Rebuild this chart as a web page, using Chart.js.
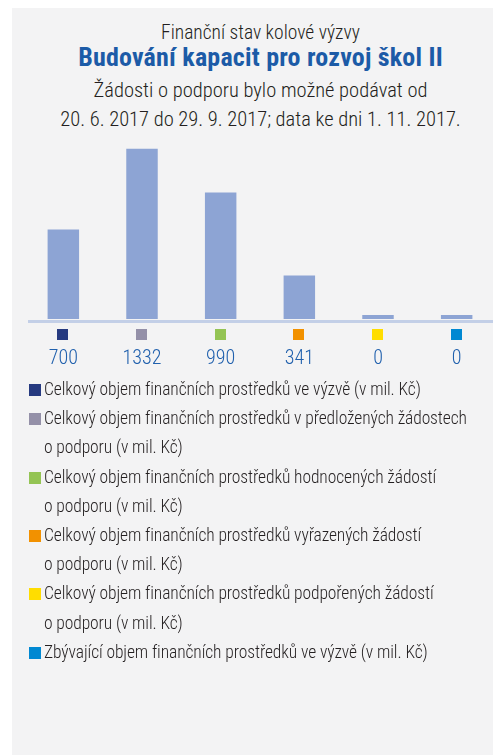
<!DOCTYPE html>
<html lang="cs">
<head>
<meta charset="utf-8">
<script src="https://cdn.jsdelivr.net/npm/chart.js@4.4.0/dist/chart.umd.min.js"></script>
<style>
    html, body { margin: 0; padding: 0; background: #ffffff; }
    body { width: 497px; height: 755px; position: relative; overflow: hidden;
           font-family: "Roboto Condensed", "Liberation Sans", sans-serif; font-weight: 300; color: #231f20; }
    #panel { position: absolute; left: 12px; top: 8px; width: 481px; height: 747px; background: #f3f3f4; }
    .line { position: absolute; left: 24px; width: 473px; text-align: center; white-space: nowrap; }
    #t1 { top: 21px; font-size: 19.5px; line-height: 23.4px; }
    #t2 { top: 42px; font-size: 26px; line-height: 31.2px; font-weight: 700; color: #1c5ba7; letter-spacing: 0.2px; }
    #t3 { top: 78px; font-size: 20.5px; line-height: 24.6px; }
    #t4 { top: 107px; font-size: 20.5px; line-height: 24.6px; }
    #chartBox { position: absolute; left: 0; top: 130px; width: 497px; height: 269px; }
    #legend { position: absolute; left: 29px; top: 375px; width: 465px; font-size: 17.5px; line-height: 29.2px; letter-spacing: -0.1px; }
    #legend .item { padding-left: 15px; text-indent: -15px; white-space: nowrap; }
    #legend .box { display: inline-block; width: 12px; height: 12px; margin-right: 3px; vertical-align: -1px; text-indent: 0; }
</style>
</head>
<body>
<div id="panel"></div>
<div class="line" id="t1"></div>
<div class="line" id="t2"></div>
<div class="line" id="t3"></div>
<div class="line" id="t4"></div>
<div id="chartBox"><canvas id="chart"></canvas></div>
<div id="legend"></div>

<script>
// Texts of the heading
const titleLines = [
    'Finanční stav kolové výzvy',
    'Budování kapacit pro rozvoj škol II',
    'Žádosti o podporu bylo možné podávat od',
    '20. 6. 2017 do 29. 9. 2017; data ke dni 1. 11. 2017.'
];

// Categories (legend texts, one array per item = its lines), values in mil. Kč, marker colours
const categories = [
    ['Celkový objem finančních prostředků ve výzvě (v mil. Kč)'],
    ['Celkový objem finančních prostředků v předložených žádostech', 'o podporu (v mil. Kč)'],
    ['Celkový objem finančních prostředků hodnocených žádostí', 'o podporu (v mil. Kč)'],
    ['Celkový objem finančních prostředků vyřazených žádostí', 'o podporu (v mil. Kč)'],
    ['Celkový objem finančních prostředků podpořených žádostí', 'o podporu (v mil. Kč)'],
    ['Zbývající objem finančních prostředků ve výzvě (v mil. Kč)']
];
const values = [700, 1332, 990, 341, 0, 0];
const markerColors = ['#263a80', '#9490a8', '#94c454', '#f29100', '#ffdd00', '#0088d2'];

const barColor = '#8da4d4';
const axisColor = '#c3cfe7';
const valueColor = '#2060ad';

// Heading
titleLines.forEach((text, i) => {
    document.getElementById('t' + (i + 1)).textContent = text;
});

// Legend below the chart
function buildLegend() {
    const legend = document.getElementById('legend');
    categories.forEach((lines, i) => {
        const item = document.createElement('div');
        item.className = 'item';
        const box = document.createElement('span');
        box.className = 'box';
        box.style.background = markerColors[i];
        item.appendChild(box);
        lines.forEach((text, j) => {
            if (j > 0) item.appendChild(document.createElement('br'));
            item.appendChild(document.createTextNode(text));
        });
        legend.appendChild(item);
    });
}

// Axis line plus the coloured squares under each bar
const markersPlugin = {
    id: 'markers',
    afterDatasetsDraw(chart) {
        const { ctx, chartArea, scales } = chart;
        ctx.save();
        ctx.fillStyle = axisColor;
        ctx.fillRect(chartArea.left + 4, chartArea.bottom + 1, chartArea.right - chartArea.left - 7, 3);
        categories.forEach((c, i) => {
            const x = scales.x.getPixelForValue(i);
            ctx.fillStyle = markerColors[i];
            ctx.fillRect(Math.round(x) - 6, chartArea.bottom + 10, 11, 11);
        });
        ctx.restore();
    }
};

function init() {
    buildLegend();

    const ctx = document.getElementById('chart').getContext('2d');
    new Chart(ctx, {
        type: 'bar',
        data: {
            labels: categories,
            datasets: [{
                data: values,
                backgroundColor: barColor,
                borderWidth: 0,
                barPercentage: 0.4,
                categoryPercentage: 1,
                minBarLength: 4
            }]
        },
        options: {
            responsive: true,
            maintainAspectRatio: false,
            animation: false,
            layout: { padding: { left: 24, right: 1, top: 10, bottom: 0 } },
            scales: {
                x: {
                    grid: { display: false, drawTicks: false },
                    border: { display: false },
                    ticks: {
                        padding: 28,
                        color: valueColor,
                        maxRotation: 0,
                        font: { family: '"Roboto Condensed", sans-serif', size: 20, weight: '300' },
                        callback: (val, index) => String(values[index])
                    }
                },
                y: {
                    display: false,
                    min: 0,
                    max: 1400
                }
            },
            plugins: {
                legend: { display: false },
                tooltip: { enabled: false }
            }
        },
        plugins: [markersPlugin]
    });
}

window.addEventListener('load', init);
</script>
</body>
</html>
